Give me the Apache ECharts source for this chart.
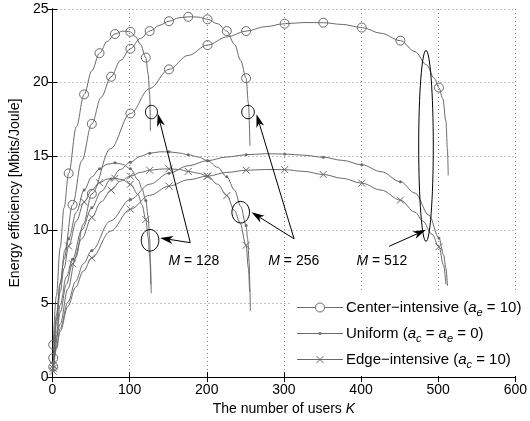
<!DOCTYPE html>
<html><head><meta charset="utf-8">
<script src="https://cdn.jsdelivr.net/npm/echarts@6/dist/echarts.min.js"></script>
<style>html,body{margin:0;padding:0;background:#fff}#c{width:530px;height:421px}</style>
</head><body><div id="c"></div>
<script>
// ---- data (K, energy efficiency) ----
const xTicks = [0, 100, 200, 300, 400, 500, 600];
const yTicks = [0, 5, 10, 15, 20, 25];
const markK128 = [1, 21, 41, 61, 81, 101, 121];
const markK256 = [1, 26, 51, 76, 101, 126, 151, 176, 201, 226, 251];
const markK512 = [1, 51, 101, 151, 201, 251, 301, 351, 401, 451, 501];

const centerM128 = [[1,2.2],[5,5.5],[10,8.8],[15,11.5],[21,13.84],[31,17.0],[41,19.2],[51,20.8],[61,22.0],[71,22.8],[81,23.3],[91,23.5],[101,23.45],[108,23.1],[114,22.6],[121,21.7],[124,20.6],[126,19.2],[127,16.7]];
const centerM256 = [[1,1.3],[5,3.9],[10,6.3],[16,8.6],[26,11.7],[38,14.7],[51,17.2],[63,19.0],[76,20.4],[88,21.5],[101,22.3],[114,23.0],[126,23.5],[139,23.9],[151,24.17],[164,24.4],[176,24.47],[189,24.45],[201,24.3],[214,24.0],[226,23.5],[236,22.6],[244,21.5],[251,20.3],[254,18.6],[256,15.7]];
const centerM512 = [[1,0.7],[10,3.6],[20,6.0],[30,8.1],[40,10.4],[51,12.45],[75,15.5],[101,17.9],[126,19.6],[151,20.9],[176,21.85],[201,22.55],[226,23.1],[251,23.5],[276,23.8],[301,24.0],[326,24.08],[351,24.07],[376,23.95],[401,23.74],[426,23.35],[451,22.85],[470,22.1],[485,21.2],[495,20.3],[501,19.66],[506,18.9],[510,17.4],[512,15.5],[513,13.7]];

const uniformM128 = [[1,1.0],[5,4.2],[10,6.4],[15,8.0],[21,9.4],[31,11.2],[41,12.7],[51,13.6],[61,14.15],[71,14.45],[81,14.55],[91,14.45],[101,14.15],[111,13.4],[116,12.8],[121,12.0],[124,10.9],[126,9.4],[127,7.8],[128,5.7]];
const uniformM256 = [[1,0.7],[5,3.0],[10,4.9],[18,6.8],[26,8.0],[38,10.0],[51,11.5],[63,12.6],[76,13.45],[88,14.1],[101,14.6],[114,15.0],[126,15.2],[139,15.3],[151,15.3],[164,15.22],[176,15.1],[189,14.95],[201,14.7],[214,14.25],[226,13.6],[236,12.7],[244,11.6],[251,10.3],[253,9.4],[255,7.8],[256,6.0],[256.5,4.5]];
const uniformM512 = [[1,0.5],[5,2.1],[10,3.3],[20,5.1],[30,6.5],[40,7.7],[51,8.6],[75,10.6],[101,12.06],[126,13.1],[151,13.85],[176,14.35],[201,14.7],[226,14.95],[251,15.1],[276,15.17],[301,15.15],[326,15.07],[351,14.93],[376,14.72],[401,14.42],[426,13.95],[451,13.27],[470,12.5],[488,11.0],[501,9.45],[507,8.3],[510,7.4],[512,6.2]];

const edgeM128 = [[1,0.8],[5,3.6],[10,5.8],[15,7.4],[21,8.9],[31,10.6],[41,11.9],[51,12.7],[61,13.2],[71,13.45],[81,13.5],[91,13.4],[101,13.1],[111,12.4],[116,11.7],[121,10.7],[124,9.5],[126,8.2],[127.5,6.3]];
const edgeM256 = [[1,0.6],[5,2.7],[10,4.4],[18,6.3],[26,7.7],[38,9.4],[51,10.85],[63,11.9],[76,12.7],[88,13.3],[101,13.65],[114,13.9],[126,14.05],[139,14.12],[151,14.15],[164,14.1],[176,13.97],[189,13.85],[201,13.65],[214,13.1],[226,12.33],[236,11.3],[243,10.5],[251,8.95],[254,7.4],[255.5,5.8]];
const edgeM512 = [[1,0.4],[5,1.9],[10,3.1],[20,4.8],[30,6.1],[40,7.2],[51,8.1],[75,9.9],[101,11.4],[126,12.35],[151,12.97],[176,13.4],[201,13.65],[226,13.9],[251,14.05],[276,14.1],[301,14.09],[326,13.97],[351,13.76],[376,13.5],[401,13.17],[426,12.7],[451,12.02],[470,11.2],[480,10.6],[492,9.7],[501,8.85],[507,7.6],[510,6.3]];

const seriesNames = ['Center-intensive', 'Uniform', 'Edge-intensive'];
// legend text pieces: n = normal, i = italic, s = italic subscript
const legendParts = [
  [['Center\u2212intensive (','n'],['a','i'],['e','s'],[' = 10)','n']],
  [['Uniform (','n'],['a','i'],['c','s'],[' = ','n'],['a','i'],['e','s'],[' = 0)','n']],
  [['Edge\u2212intensive (','n'],['a','i'],['c','s'],[' = 10)','n']]
];

// annotations (data coordinates)
const annEllipses = [[128.3,18.0],[253.5,18.0],[126.5,9.29],[244,11.2],[484.2,15.7]];
const annArrows = [ // [from, to]
  [[178.6,9.13],[136.5,17.9]], [[178.6,9.13],[139.5,9.45]],
  [[313.2,9.39],[264.5,17.85]], [[313.2,9.39],[258,11.2]],
  [[436.3,8.88],[484.2,10.0]]
];
const annLabels = [[183.3,7.9,'128'],[312.8,7.9,'256'],[427,7.9,'512']];

// ---- chart ----
const FONT = "'Liberation Sans', Arial, Helvetica, sans-serif";
const FS = 14, LFS = 15, SFS = 11;
const GRAY = '#6a6a6a';
const chart = echarts.init(document.getElementById('c'), null, {renderer:'canvas'});
const xSym = 'path://M0,0L10,10M10,0L0,10';

function mk(name, pts, marks, kind){
  const base = {
    type:'line', name, data: pts.map(p => marks.includes(p[0]) ? {value:p} : {value:p, symbol:'none'}),
    smooth:0.35, smoothMonotone:'x', showAllSymbol:true, animation:false, silent:true,
    lineStyle:{color:GRAY, width:1}, emphasis:{disabled:true}, z:3
  };
  if (kind === 'c') { base.symbol='circle'; base.symbolSize=9; base.itemStyle={color:'rgba(0,0,0,0)', borderColor:GRAY, borderWidth:1}; }
  if (kind === 'u') { base.symbol='circle'; base.symbolSize=3; base.itemStyle={color:GRAY, borderWidth:0}; }
  if (kind === 'e') { base.symbol=xSym; base.symbolSize=7; base.itemStyle={color:'rgba(0,0,0,0)', borderColor:GRAY, borderWidth:1}; }
  return base;
}

const series = [
  mk(seriesNames[0], centerM128, markK128, 'c'),
  mk(seriesNames[0], centerM256, markK256, 'c'),
  mk(seriesNames[0], centerM512, markK512, 'c'),
  mk(seriesNames[1], uniformM128, markK128, 'u'),
  mk(seriesNames[1], uniformM256, markK256, 'u'),
  mk(seriesNames[1], uniformM512, markK512, 'u'),
  mk(seriesNames[2], edgeM128, markK128, 'e'),
  mk(seriesNames[2], edgeM256, markK256, 'e'),
  mk(seriesNames[2], edgeM512, markK512, 'e')
];

const axisCommon = {
  axisLine:{show:true, lineStyle:{color:'#000', width:1}},
  axisTick:{show:true, inside:true, length:5, lineStyle:{color:'#000'}},
};

chart.setOption({
  backgroundColor:'#fff',
  animation:false,
  grid:{left:49, right:13, top:9, bottom:43},
  xAxis:[
    Object.assign({type:'value', min:0, max:600, interval:100, position:'bottom',
      name:'The number of users {i|K}', nameLocation:'middle', nameGap:22,
      nameTextStyle:{fontSize:FS, fontFamily:FONT, color:'#000', rich:{i:{fontStyle:'italic', fontSize:FS, fontFamily:FONT, color:'#000'}}},
      axisLabel:{fontSize:FS, fontFamily:FONT, color:'#000', margin:6, formatter:v => xTicks.includes(v) ? String(v) : ''},
      splitLine:{show:true, lineStyle:{color:'#888', type:[1,3], width:1}}}, axisCommon),
    Object.assign({type:'value', min:0, max:600, interval:100, position:'top', axisLabel:{show:false}, splitLine:{show:false}}, axisCommon)
  ],
  yAxis:[
    Object.assign({type:'value', min:0, max:25, interval:5, position:'left',
      name:'Energy efficiency [Mbits/Joule]', nameLocation:'middle', nameGap:27,
      nameTextStyle:{fontSize:FS, fontFamily:FONT, color:'#000'},
      axisLabel:{fontSize:FS, fontFamily:FONT, color:'#000', margin:4, formatter:v => yTicks.includes(v) ? String(v) : ''},
      splitLine:{show:true, lineStyle:{color:'#888', type:[1,3], width:1}}}, axisCommon),
    Object.assign({type:'value', min:0, max:25, interval:5, position:'right', axisLabel:{show:false}, splitLine:{show:false}}, axisCommon)
  ],
  series
});

// annotations
function px(p){ return chart.convertToPixel({xAxisIndex:0, yAxisIndex:0}, p); }
const g = [];
const ellSizes = [[6,6.7],[6.3,6.7],[8.8,10.8],[8.8,10.8],[7.3,95.5]];
annEllipses.forEach((p,i) => {
  const c = px(p);
  g.push({type:'ellipse', shape:{cx:c[0], cy:c[1], rx:ellSizes[i][0], ry:ellSizes[i][1]}, style:{fill:'none', stroke:'#000', lineWidth:1}, z:60});
});
annArrows.forEach(a => {
  const f = px(a[0]), t = px(a[1]);
  const dx = t[0]-f[0], dy = t[1]-f[1], len = Math.hypot(dx,dy);
  const ux = dx/len, uy = dy/len, nx = -uy, ny = ux;
  const L = 13, W = 8;
  const b = [t[0]-ux*L*0.72, t[1]-uy*L*0.72];
  g.push({type:'line', shape:{x1:f[0], y1:f[1], x2:b[0], y2:b[1]}, style:{stroke:'#000', lineWidth:1}, z:60});
  g.push({type:'polygon', shape:{points:[t, [t[0]-ux*L+nx*W/2, t[1]-uy*L+ny*W/2], b, [t[0]-ux*L-nx*W/2, t[1]-uy*L-ny*W/2]]}, style:{fill:'#000'}, z:60});
});
annLabels.forEach(l => {
  const c = px([l[0], l[1]]);
  g.push({type:'text', x:c[0], y:c[1], z:60, style:{text:'{i|M} = ' + l[2], align:'center', verticalAlign:'middle',
    fontSize:FS, fontFamily:FONT, fill:'#000',
    rich:{i:{fontStyle:'italic', fontSize:FS, fontFamily:FONT, fill:'#000'}}}});
});

// custom legend (MATLAB style)
const legBox = {x:290, y:292, w:226, h:84};
const legLine = [297, 343], legTextX = 346, legRowY = [307.5, 333.5, 359.5];
g.push({type:'rect', shape:{x:legBox.x, y:legBox.y, width:legBox.w, height:legBox.h}, style:{fill:'#fff'}, z:50});
const mctx = document.createElement('canvas').getContext('2d');
legendParts.forEach((parts, r) => {
  const y = legRowY[r];
  g.push({type:'line', shape:{x1:legLine[0], y1:y, x2:legLine[1], y2:y}, style:{stroke:GRAY, lineWidth:1}, z:51});
  const cx = (legLine[0]+legLine[1])/2;
  if (r === 0) g.push({type:'circle', shape:{cx, cy:y, r:4.5}, style:{fill:'#fff', stroke:GRAY, lineWidth:1}, z:52});
  if (r === 1) g.push({type:'circle', shape:{cx, cy:y, r:1.5}, style:{fill:GRAY}, z:52});
  if (r === 2) {
    g.push({type:'line', shape:{x1:cx-3.5, y1:y-3.5, x2:cx+3.5, y2:y+3.5}, style:{stroke:GRAY, lineWidth:1}, z:52});
    g.push({type:'line', shape:{x1:cx-3.5, y1:y+3.5, x2:cx+3.5, y2:y-3.5}, style:{stroke:GRAY, lineWidth:1}, z:52});
  }
  let x = legTextX;
  parts.forEach(([txt, kind]) => {
    const size = kind === 's' ? SFS : LFS;
    const style = kind === 'n' ? 'normal' : 'italic';
    mctx.font = style + ' ' + size + 'px ' + FONT;
    const w = mctx.measureText(txt).width;
    g.push({type:'text', x, y: kind === 's' ? y + 5 : y, z:52, style:{text:txt, fontSize:size, fontStyle:style, fontFamily:FONT, fill:'#000', align:'left', verticalAlign:'middle'}});
    x += w;
  });
});
chart.setOption({graphic:g});
</script>
</body></html>
